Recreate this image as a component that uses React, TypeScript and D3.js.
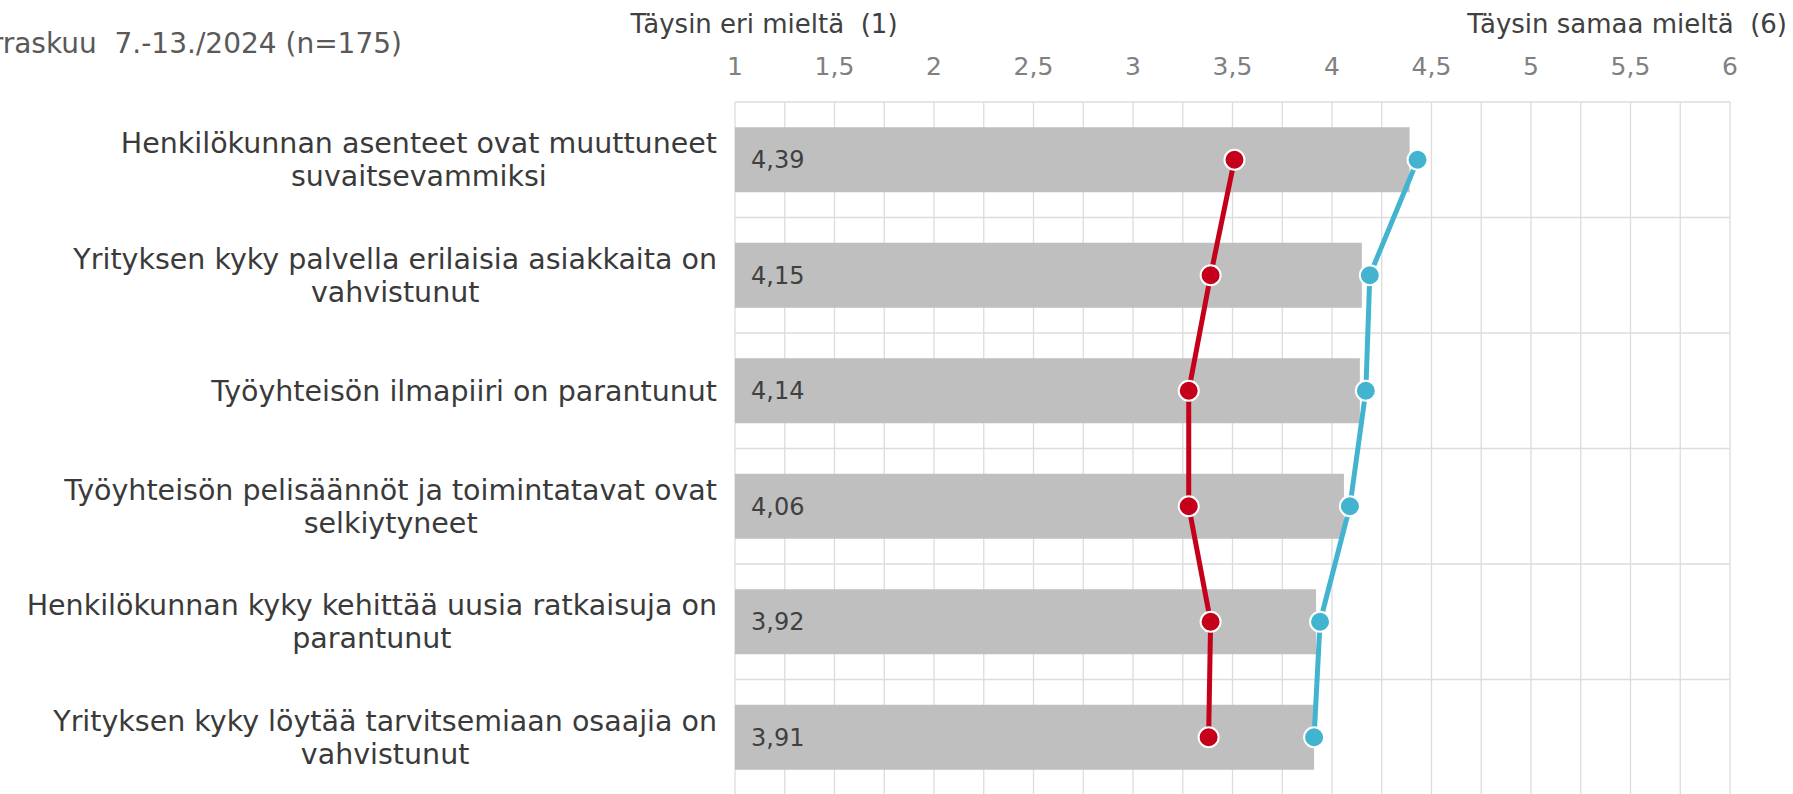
import * as d3 from 'd3';

const categories = [
  'Henkilökunnan asenteet ovat muuttuneet\nsuvaitsevammiksi',
  'Yrityksen kyky palvella erilaisia asiakkaita on\nvahvistunut',
  'Työyhteisön ilmapiiri on parantunut',
  'Työyhteisön pelisäännöt ja toimintatavat ovat\nselkiytyneet',
  'Henkilökunnan kyky kehittää uusia ratkaisuja on\nparantunut',
  'Yrityksen kyky löytää tarvitsemiaan osaajia on\nvahvistunut',
];

// harmaa palkki = keskiarvo
const barValues = [4.39, 4.15, 4.14, 4.06, 3.92, 3.91];
// punainen ja sininen viiva
const redValues = [3.51, 3.39, 3.28, 3.28, 3.39, 3.38];
const blueValues = [4.43, 4.19, 4.17, 4.09, 3.94, 3.91];

const tickValues = [1, 1.5, 2, 2.5, 3, 3.5, 4, 4.5, 5, 5.5, 6];

const W = 1793;
const H = 794;
const FONT = '"DejaVu Sans", Verdana, sans-serif';
const LABEL_RIGHT = 717;

const fmt = (v: number) => d3.format('.2f')(v).replace('.', ',');
const fmtTick = (v: number) => String(v).replace('.', ',');

export default function App() {
  const x = d3.scaleLinear().domain([1, 6]).range([735, 1730]);
  const y = d3.scaleBand<string>().domain(categories).range([102, 795]).padding(0);
  const bw = y.bandwidth();
  const barH = 65;
  const cy = (c: string) => (y(c) ?? 0) + bw / 2;

  const minorTicks = d3.range(1, 6.01, 0.25);

  const line = d3
    .line<number>()
    .x((d) => x(d))
    .y((_, i) => cy(categories[i]));

  return (
    <svg
      width={W}
      height={H}
      style={{ position: 'absolute', left: 0, top: 0, display: 'block', background: '#fff' }}
      fontFamily={FONT}
    >
      {/* otsikko, vasen reuna leikkautuu kuten alkuperäisessä */}
      <text x={402} y={53} textAnchor="end" fontSize={28} fill="#595959" xmlSpace="preserve">
        Marraskuu  7.-13./2024 (n=175)
      </text>

      <text x={764} y={33} textAnchor="middle" fontSize={26} fill="#404040" xmlSpace="preserve">
        Täysin eri mieltä  (1)
      </text>
      <text x={1787} y={33} textAnchor="end" fontSize={26} fill="#404040" xmlSpace="preserve">
        Täysin samaa mieltä  (6)
      </text>

      {tickValues.map((t) => (
        <text key={t} x={x(t)} y={75} textAnchor="middle" fontSize={25} fill="#808080">
          {fmtTick(t)}
        </text>
      ))}

      {/* ruudukko */}
      {minorTicks.map((t) => (
        <line key={'v' + t} x1={x(t)} x2={x(t)} y1={102} y2={H} stroke="#dcdcdc" strokeWidth={1.3} />
      ))}
      {categories.map((c) => (
        <line key={'h' + c} x1={x(1)} x2={x(6)} y1={y(c)} y2={y(c)} stroke="#dcdcdc" strokeWidth={1.3} />
      ))}

      {categories.map((c, i) => (
        <g key={'b' + c}>
          <rect x={x(1)} y={cy(c) - barH / 2} width={x(barValues[i]) - x(1)} height={barH} fill="#bfbfbf" />
          <text x={x(1) + 16} y={cy(c)} dy="0.35em" fontSize={24} fill="#404040">
            {fmt(barValues[i])}
          </text>
        </g>
      ))}

      {categories.map((c) => {
        const lines = c.split('\n');
        const lh = 33;
        const y0 = cy(c) - ((lines.length - 1) * lh) / 2;
        return (
          <g key={'l' + c}>
            {lines.map((l, j) => (
              <text
                key={j}
                x={LABEL_RIGHT}
                y={y0 + j * lh}
                dy="0.35em"
                fontSize={28.5}
                fill="#3a3a3a"
                textAnchor="end"
                data-first={j === 0 ? '1' : undefined}
                ref={(el) => {
                  // rivitetyt tekstit keskitetään ensimmäisen rivin mukaan
                  if (!el || j === 0) return;
                  const first = el.parentNode?.querySelector('text[data-first]') as SVGTextElement | null;
                  if (first) {
                    const w = first.getComputedTextLength();
                    el.setAttribute('text-anchor', 'middle');
                    el.setAttribute('x', String(LABEL_RIGHT - w / 2));
                  }
                }}
              >
                {l}
              </text>
            ))}
          </g>
        );
      })}

      <path d={line(redValues) ?? ''} fill="none" stroke="#c5001a" strokeWidth={5} strokeLinejoin="round" />
      <path d={line(blueValues) ?? ''} fill="none" stroke="#42b4cf" strokeWidth={5} strokeLinejoin="round" />
      {redValues.map((v, i) => (
        <circle key={'r' + i} cx={x(v)} cy={cy(categories[i])} r={10} fill="#c5001a" stroke="#fff" strokeWidth={2} />
      ))}
      {blueValues.map((v, i) => (
        <circle key={'c' + i} cx={x(v)} cy={cy(categories[i])} r={10} fill="#42b4cf" stroke="#fff" strokeWidth={2} />
      ))}
    </svg>
  );
}
